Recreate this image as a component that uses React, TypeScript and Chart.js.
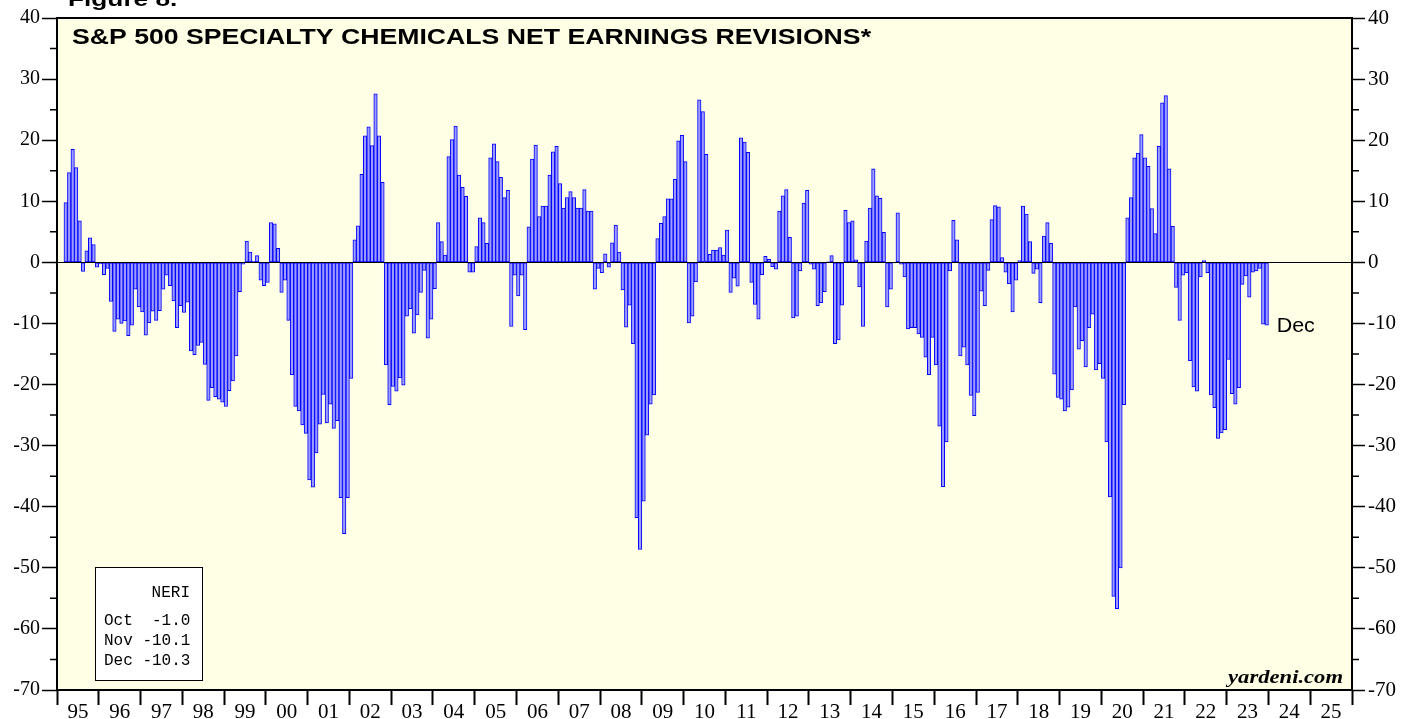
import React, { useEffect, useRef } from 'react';
import { Chart, registerables } from 'chart.js';

Chart.register(...registerables);

// ---- Data: S&P 500 Specialty Chemicals NERI, monthly (Jan..Dec) ----
const FIRST_YEAR = 1995;
const AXIS_END_YEAR = 2026;

const v1995 = [null, null, 9.8, 14.7, 18.5, 15.5, 6.8, -1.5, 1.9, 4.0, 2.9, -0.8];
const v1996 = [-0.2, -2.0, -1.0, -6.4, -11.3, -9.3, -10.0, -9.6, -12.0, -10.3, -4.4, -7.3];
const v1997 = [-8.1, -11.9, -9.9, -8.0, -9.5, -7.9, -4.4, -2.1, -3.8, -6.3, -10.7, -7.1];
const v1998 = [-8.2, -6.5, -14.5, -15.1, -13.6, -13.1, -16.7, -22.6, -20.5, -22.0, -22.4, -22.9];
const v1999 = [-23.6, -21.0, -19.4, -15.3, -4.8, -0.3, 3.5, 1.7, 0.2, 1.1, -2.9, -3.8];
const v2000 = [-3.3, 6.5, 6.3, 2.3, -4.9, -2.9, -9.5, -18.4, -23.6, -24.3, -26.6, -28.0];
const v2001 = [-35.6, -36.8, -31.2, -26.5, -21.6, -26.3, -23.2, -27.2, -25.9, -38.5, -44.4, -38.5];
const v2002 = [-19.0, 3.7, 6.0, 14.4, 20.7, 22.2, 19.1, 27.6, 20.7, 13.1, -16.8, -23.3];
const v2003 = [-20.3, -21.1, -18.9, -20.1, -8.8, -7.6, -11.6, -8.6, -4.9, -1.3, -12.4, -9.3];
const v2004 = [-4.3, 6.5, 3.4, 1.2, 17.3, 20.1, 22.3, 14.3, 12.3, 10.8, -1.6, -1.6];
const v2005 = [2.6, 7.3, 6.5, 3.1, 17.1, 19.4, 16.5, 13.9, 10.6, 11.8, -10.5, -2.1];
const v2006 = [-5.5, -2.1, -11.0, 5.8, 16.9, 19.2, 7.5, 9.2, 9.2, 14.3, 18.1, 19.0];
const v2007 = [12.9, 8.9, 10.6, 11.6, 10.6, 8.9, 8.9, 11.9, 8.4, 8.4, -4.4, -1.0];
const v2008 = [-1.7, 1.4, -0.8, 3.2, 6.1, 1.7, -4.5, -10.6, -7.0, -13.3, -41.8, -47.0];
const v2009 = [-39.1, -28.3, -23.2, -21.7, 3.9, 6.4, 7.5, 10.4, 10.4, 13.6, 19.9, 20.8];
const v2010 = [16.5, -9.9, -8.8, -3.2, 26.6, 24.7, 17.7, 1.3, 2.0, 2.0, 2.4, 1.2];
const v2011 = [5.3, -4.9, -2.6, -3.9, 20.4, 19.7, 18.0, -3.3, -6.9, -9.3, -2.0, 1.0];
const v2012 = [0.5, -0.7, -1.1, 8.4, 10.9, 11.9, 4.1, -9.1, -8.8, -1.4, 9.7, 11.8];
const v2013 = [-0.3, -1.1, -7.1, -6.6, -4.8, 0.1, 1.1, -13.3, -12.7, -7.0, 8.5, 6.5];
const v2014 = [6.8, 0.4, -4.0, -10.5, 3.5, 8.9, 15.3, 10.9, 10.5, 4.9, -7.3, -4.4];
const v2015 = [-0.1, 8.1, -0.3, -2.4, -10.9, -10.7, -10.7, -11.7, -12.3, -15.5, -18.4, -12.3];
const v2016 = [-16.8, -26.8, -36.7, -29.4, -1.4, 6.9, 3.7, -15.3, -13.9, -16.8, -21.8, -25.1];
const v2017 = [-21.3, -4.7, -7.1, -1.3, 7.0, 9.3, 9.1, 0.8, -1.6, -3.5, -8.1, -2.9];
const v2018 = [0.3, 9.2, 7.9, 3.4, -1.8, -1.1, -6.6, 4.3, 6.5, 3.1, -18.3, -22.1];
const v2019 = [-22.4, -24.3, -23.7, -20.9, -7.3, -14.2, -12.8, -17.1, -10.7, -8.5, -17.6, -16.6];
const v2020 = [-19.0, -29.4, -38.4, -54.7, -56.7, -50.0, -23.3, 7.3, 10.6, 17.1, 17.9, 20.9];
const v2021 = [17.1, 15.7, 8.8, 4.7, 19.0, 26.1, 27.3, 15.3, 5.9, -4.1, -9.5, -2.1];
const v2022 = [-1.7, -16.1, -20.4, -21.1, -2.4, 0.3, -1.7, -21.7, -23.8, -28.8, -27.9, -27.4];
const v2023 = [-15.9, -21.5, -23.2, -20.5, -3.6, -2.2, -5.7, -1.6, -1.4, -1.0, -10.1, -10.3];

const NERI_BY_YEAR: (number | null)[][] = [
  v1995, v1996, v1997, v1998, v1999, v2000, v2001, v2002, v2003, v2004,
  v2005, v2006, v2007, v2008, v2009, v2010, v2011, v2012, v2013, v2014,
  v2015, v2016, v2017, v2018, v2019, v2020, v2021, v2022, v2023,
];

const YEAR_LABELS = ['95', '96', '97', '98', '99', '00', '01', '02', '03', '04', '05', '06', '07', '08', '09', '10',
  '11', '12', '13', '14', '15', '16', '17', '18', '19', '20', '21', '22', '23', '24', '25'];
const Y_MAJOR = [-70, -60, -50, -40, -30, -20, -10, 0, 10, 20, 30, 40];
const Y_MINOR = [-65, -55, -45, -35, -25, -15, -5, 5, 15, 25, 35];

const LEGEND_TITLE = 'NERI';
const LEGEND_MONTHS = ['Oct', 'Nov', 'Dec'];
const LEGEND_VALUES = ['-1.0', '-10.1', '-10.3'];

const TITLE = 'S&P 500 SPECIALTY CHEMICALS NET EARNINGS REVISIONS*';
const FIGURE = 'Figure 8.';
const LAST_LABEL = 'Dec';
const SOURCE = 'yardeni.com';

const PLOT_BG = '#FFFFE5';
const BAR_FILL = '#9C9CFF';
const BAR_EDGE = '#0000FF';
const SERIF = "'Liberation Serif', 'Times New Roman', serif";
const SANS = "'Liberation Sans', Arial, sans-serif";
const MONO = "'Liberation Mono', 'Courier New', monospace";

const points = NERI_BY_YEAR.flatMap((arr, yi) =>
  arr.map((v, m) => (v === null ? null : { x: FIRST_YEAR + yi + (m + 0.5) / 12, y: v }))
).filter((p): p is { x: number; y: number } => p !== null);

const X_TICKS: number[] = [];
for (let k = 0; k <= (AXIS_END_YEAR - FIRST_YEAR) * 2; k++) X_TICKS.push(FIRST_YEAR + k * 0.5);

// draw text stretched horizontally (the original artwork uses wide lettering)
function wideText(ctx: CanvasRenderingContext2D, text: string, x: number, y: number, sx: number, align: 'left' | 'right') {
  const w = ctx.measureText(text).width * sx;
  const x0 = align === 'right' ? x - w : x;
  ctx.save();
  ctx.textAlign = 'left';
  ctx.translate(x0, y);
  ctx.scale(sx, 1);
  ctx.fillText(text, 0, 0);
  ctx.restore();
}

const decor = {
  id: 'decor',
  beforeDraw(chart: any) {
    const { ctx, chartArea: a } = chart;
    ctx.save();
    ctx.fillStyle = '#ffffff';
    ctx.fillRect(0, 0, chart.width, chart.height);
    ctx.fillStyle = PLOT_BG;
    ctx.fillRect(a.left, a.top, a.right - a.left, a.bottom - a.top);
    ctx.restore();
  },
  afterDatasetsDraw(chart: any) {
    const { ctx, chartArea: a, scales } = chart;
    const y0 = Math.round(scales.y.getPixelForValue(0)) + 0.5;
    ctx.save();
    ctx.strokeStyle = '#000';
    ctx.lineWidth = 1;
    ctx.beginPath();
    ctx.moveTo(a.left, y0);
    ctx.lineTo(a.right, y0);
    ctx.stroke();
    ctx.restore();
  },
  afterDraw(chart: any) {
    const { ctx, chartArea: a, scales } = chart;
    const ys = scales.y;
    const xs = scales.x;
    ctx.save();
    // minor ticks
    ctx.strokeStyle = '#000';
    ctx.lineWidth = 1.5;
    Y_MINOR.forEach((v) => {
      const py = ys.getPixelForValue(v);
      ctx.beginPath();
      ctx.moveTo(a.left - 7, py);
      ctx.lineTo(a.left, py);
      ctx.moveTo(a.right, py);
      ctx.lineTo(a.right + 7, py);
      ctx.stroke();
    });
    // frame
    ctx.lineWidth = 2;
    ctx.strokeRect(a.left, a.top, a.right - a.left, a.bottom - a.top);

    ctx.fillStyle = '#000';
    ctx.textBaseline = 'alphabetic';

    // figure label (clipped at top)
    ctx.font = `bold 21px ${SANS}`;
    wideText(ctx, FIGURE, 68, 6, 1.25, 'left');

    // title, stretched to the original width
    ctx.font = `bold 22px ${SANS}`;
    const tw = ctx.measureText(TITLE).width;
    wideText(ctx, TITLE, a.left + 15, a.top + 26, 799 / tw, 'left');

    // last value label
    const last = points[points.length - 1];
    ctx.font = `20px ${SANS}`;
    ctx.textBaseline = 'middle';
    wideText(ctx, LAST_LABEL, xs.getPixelForValue(last.x) + 10, ys.getPixelForValue(last.y) + 1, 1.07, 'left');

    // source
    ctx.textBaseline = 'alphabetic';
    ctx.font = `bold italic 19px ${SERIF}`;
    wideText(ctx, SOURCE, a.right - 9, a.bottom - 7, 1.19, 'right');

    // legend box
    const bx = a.left + 38, by = a.bottom - 123, bw = 107, bh = 113;
    ctx.fillStyle = '#ffffff';
    ctx.fillRect(bx, by, bw, bh);
    ctx.strokeStyle = '#000';
    ctx.lineWidth = 1;
    ctx.strokeRect(bx + 0.5, by + 0.5, bw, bh);
    ctx.fillStyle = '#000';
    ctx.font = `16px ${MONO}`;
    ctx.textAlign = 'right';
    ctx.fillText(LEGEND_TITLE, bx + 95, by + 30);
    ctx.textAlign = 'left';
    LEGEND_MONTHS.forEach((m, i) => {
      const row = `${m} ${LEGEND_VALUES[i].padStart(5, ' ')}`;
      ctx.fillText(row, bx + 9, by + 58 + i * 20);
    });
    ctx.restore();
  },
};

export default function App() {
  const ref = useRef<HTMLCanvasElement | null>(null);
  useEffect(() => {
    if (!ref.current) return;
    const chart = new Chart(ref.current, {
      type: 'bar',
      data: {
        datasets: [
          {
            data: points as any,
            backgroundColor: BAR_FILL,
            borderColor: BAR_EDGE,
            borderWidth: 1,
            borderSkipped: false,
            barPercentage: 1,
            categoryPercentage: 1,
          },
        ],
      },
      options: {
        animation: false,
        responsive: false,
        devicePixelRatio: 1,
        layout: { padding: { top: 18, left: 0, right: 0, bottom: 0 } },
        plugins: { legend: { display: false }, tooltip: { enabled: false }, title: { display: false } },
        scales: {
          x: {
            type: 'linear',
            min: FIRST_YEAR,
            max: AXIS_END_YEAR,
            offset: false,
            afterFit: (s: any) => { s.height = 29; },
            afterBuildTicks: (s: any) => { s.ticks = X_TICKS.map((value) => ({ value })); },
            ticks: {
              autoSkip: false,
              maxRotation: 0,
              minRotation: 0,
              color: '#000',
              padding: -5,
              font: { family: SERIF, size: 21 },
              callback: (value: any) => {
                const v = Number(value);
                if (Math.abs(v % 1 - 0.5) < 1e-6) return YEAR_LABELS[Math.floor(v) - FIRST_YEAR] ?? '';
                return '';
              },
            },
            grid: {
              offset: false,
              drawOnChartArea: false,
              drawTicks: true,
              tickLength: 15,
              tickWidth: 2,
              tickColor: (c: any) => (c.tick && Math.abs(c.tick.value % 1) < 1e-6 ? '#000' : 'rgba(0,0,0,0)'),
            },
            border: { display: false },
          },
          y: {
            type: 'linear',
            position: 'left',
            min: -70,
            max: 40,
            afterFit: (s: any) => { s.width = 57; },
            afterBuildTicks: (s: any) => { s.ticks = Y_MAJOR.map((value) => ({ value })); },
            ticks: { color: '#000', padding: 2, font: { family: SERIF, size: 20 }, callback: (v: any) => `${v}` },
            grid: { drawOnChartArea: false, drawTicks: true, tickLength: 15, tickWidth: 1.5, tickColor: '#000' },
            border: { display: false },
          },
          y2: {
            type: 'linear',
            position: 'right',
            min: -70,
            max: 40,
            afterFit: (s: any) => { s.width = 54; },
            afterBuildTicks: (s: any) => { s.ticks = Y_MAJOR.map((value) => ({ value })); },
            ticks: { color: '#000', padding: 3, font: { family: SERIF, size: 21 }, callback: (v: any) => `${v}` },
            grid: { drawOnChartArea: false, drawTicks: true, tickLength: 13, tickWidth: 1.5, tickColor: '#000' },
            border: { display: false },
          },
        },
      } as any,
      plugins: [decor],
    });
    return () => chart.destroy();
  }, []);

  return (
    <div style={{ position: 'absolute', left: 0, top: 0, width: 1406, height: 719, background: '#fff', overflow: 'hidden' }}>
      <canvas ref={ref} width={1406} height={719} style={{ display: 'block', width: 1406, height: 719 }} />
    </div>
  );
}
